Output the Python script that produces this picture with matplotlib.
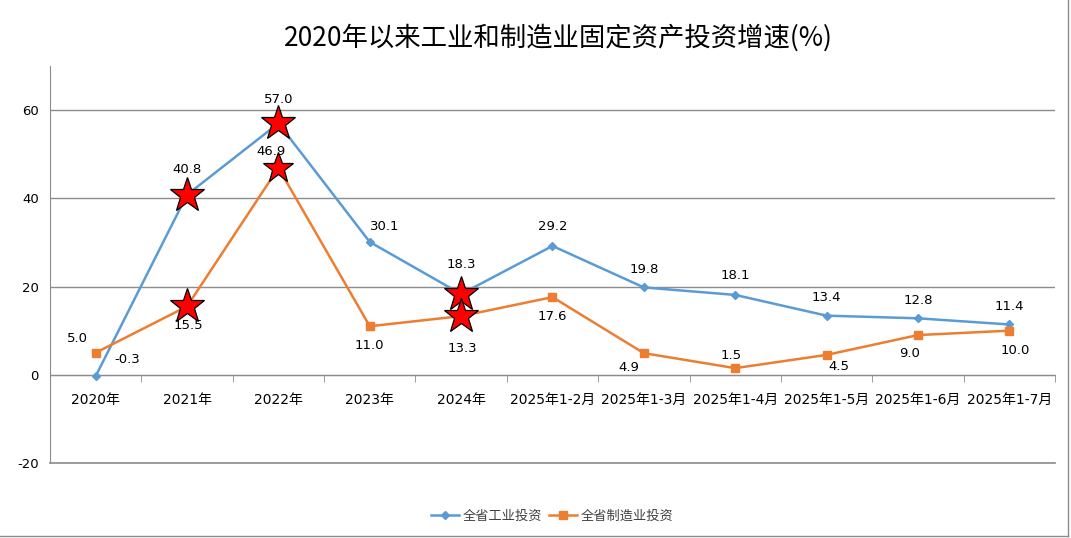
import matplotlib.pyplot as plt
from matplotlib.lines import Line2D

plt.rcParams['font.family'] = ['DejaVu Sans', 'Noto Sans CJK SC']
plt.rcParams['axes.unicode_minus'] = False

categories = ['2020年', '2021年', '2022年', '2023年', '2024年', '2025年1-2月',
              '2025年1-3月', '2025年1-4月', '2025年1-5月', '2025年1-6月', '2025年1-7月']
industry = [-0.3, 40.8, 57.0, 30.1, 18.3, 29.2, 19.8, 18.1, 13.4, 12.8, 11.4]
manufacturing = [5.0, 15.5, 46.9, 11.0, 13.3, 17.6, 4.9, 1.5, 4.5, 9.0, 10.0]
star_idx = [1, 2, 4]

# label offsets in points
ind_off = [(23, 12), (0, 18), (0, 17), (11, 11), (0, 21), (0, 14), (0, 13), (0, 14), (0, 13), (0, 13), (0, 13)]
man_off = [(-13, 10), (1, -14), (-5, 12), (0, -14), (1, -23), (0, -14), (-11, -10), (-3, 9), (9, -8), (-6, -13), (4, -14)]

blue = '#5B9BD5'
orange = '#ED7D31'
grey = '#8c8c8c'

fig = plt.figure(figsize=(10.71, 5.38), dpi=100)
ax = fig.add_axes([0.0467, 0.1394, 0.9383, 0.738])

x = list(range(len(categories)))
ax.plot(x, industry, color=blue, lw=1.8, marker='D', ms=4.5, label='全省工业投资', zorder=3)
ax.plot(x, manufacturing, color=orange, lw=1.8, marker='s', ms=6, label='全省制造业投资', zorder=3)

for i in star_idx:
    ax.plot(i, industry[i], marker='*', ms=26, color='red', mec='black', mew=0.9, zorder=4)
    ax.plot(i, manufacturing[i], marker='*', ms=26 if i != 2 else 23, color='red', mec='black', mew=0.9, zorder=4)

for i in x:
    ax.annotate(f'{industry[i]:.1f}', (i, industry[i]), xytext=ind_off[i],
                textcoords='offset points', ha='center', va='center', fontsize=9.5, zorder=5)
    ax.annotate(f'{manufacturing[i]:.1f}', (i, manufacturing[i]), xytext=man_off[i],
                textcoords='offset points', ha='center', va='center', fontsize=9.5, zorder=5)

ax.set_xlim(-0.5, len(categories) - 0.5)
ax.set_ylim(-20, 70)
ax.set_yticks([-20, 0, 20, 40, 60])
ax.yaxis.grid(True, color=grey, lw=1)
ax.axhline(-20, color=grey, lw=1.2, clip_on=False, zorder=1)
ax.set_axisbelow(True)

ax.set_xticks(x)
ax.set_xticklabels(categories, fontsize=8.6)
ax.set_xticks([i - 0.5 for i in range(len(categories) + 1)], minor=True)
ax.tick_params(axis='x', which='major', length=0, pad=13)
ax.tick_params(axis='x', which='minor', length=5, color=grey)
ax.tick_params(axis='y', length=0, labelsize=9.5, pad=8)

for s in ['top', 'right']:
    ax.spines[s].set_visible(False)
ax.spines['left'].set_color(grey)
ax.spines['bottom'].set_color(grey)
ax.spines['bottom'].set_position(('data', 0))

fig.suptitle('2020年以来工业和制造业固定资产投资增速(%)', x=0.521, y=0.955, fontsize=19,
             family=['Noto Sans CJK SC', 'DejaVu Sans'])

leg = ax.legend(loc='lower center', bbox_to_anchor=(0.5, -0.18), ncol=2, frameon=False,
                handlelength=2.1, handletextpad=0.3, columnspacing=0.5,
                prop={'family': ['Noto Sans CJK SC', 'DejaVu Sans'], 'size': 9.5})
for t in leg.get_texts():
    t.set_color('#404040')

fig.add_artist(Line2D([0.997, 0.997], [0.004, 1], color=grey, lw=1))
fig.add_artist(Line2D([0, 0.997], [0.004, 0.004], color=grey, lw=1))

fig.savefig('out.png', dpi=100)
